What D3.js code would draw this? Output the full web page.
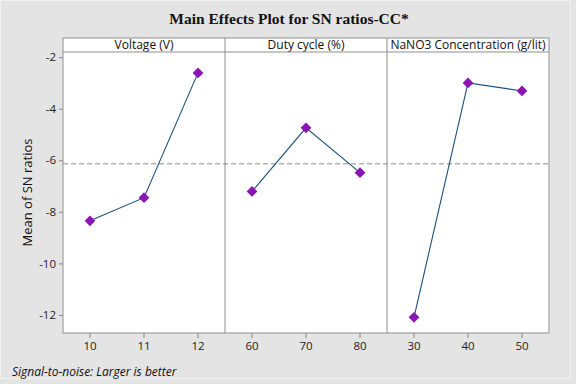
<!DOCTYPE html>
<html>
<head>
<meta charset="utf-8">
<script src="https://cdn.jsdelivr.net/npm/d3@7"></script>
<style>
  html, body { margin: 0; padding: 0; background: #e4e4e4; }
  svg { display: block; }
</style>
</head>
<body>
<div id="chart"></div>
<script>
// factors and their levels
const factors = ['Voltage (V)', 'Duty cycle (%)', 'NaNO3 Concentration (g/lit)'];
const voltageLevels = ['10', '11', '12'];
const dutyLevels = ['60', '70', '80'];
const nanoLevels = ['30', '40', '50'];

// mean SN ratios
const voltageMeans = [-8.35, -7.45, -2.61];
const dutyMeans = [-7.21, -4.74, -6.48];
const nanoMeans = [-12.09, -3.00, -3.31];

const yTicks = [-2, -4, -6, -8, -10, -12];

const W = 576, H = 384;
const box = { left: 63, right: 549, top: 38, strip: 52, bottom: 333 };
const panelW = (box.right - box.left) / factors.length;

const svg = d3.select('#chart').append('svg')
  .attr('width', W).attr('height', H);

svg.append('rect')
  .attr('x', 0.5).attr('y', 0.5).attr('width', W - 6).attr('height', H - 6)
  .attr('fill', '#e4e4e4').attr('stroke', '#f2f2f2');

svg.append('text')
  .attr('x', 289).attr('y', 24)
  .attr('text-anchor', 'middle')
  .attr('font-family', '"Liberation Serif", "Times New Roman", serif')
  .attr('font-weight', 'bold')
  .attr('font-size', '15.5px')
  .attr('fill', '#111')
  .text('Main Effects Plot for SN ratios-CC*');

const y = d3.scaleLinear()
  .domain([-12.7, -1.8])
  .range([box.bottom, box.strip]);

// plot background
svg.append('rect')
  .attr('x', box.left).attr('y', box.top)
  .attr('width', box.right - box.left).attr('height', box.bottom - box.top)
  .attr('fill', '#fff');

const panels = [
  { name: factors[0], levels: voltageLevels, means: voltageMeans },
  { name: factors[1], levels: dutyLevels, means: dutyMeans },
  { name: factors[2], levels: nanoLevels, means: nanoMeans },
];

const allMeans = voltageMeans.concat(dutyMeans, nanoMeans);
const grand = d3.mean(allMeans);

// reference line at grand mean
svg.append('line')
  .attr('x1', box.left).attr('x2', box.right)
  .attr('y1', y(grand)).attr('y2', y(grand))
  .attr('stroke', '#8c8c8c').attr('stroke-width', 1)
  .attr('stroke-dasharray', '5,3');

// y axis
const yAxis = svg.append('g')
  .attr('transform', `translate(${box.left},0)`)
  .call(d3.axisLeft(y).tickValues(yTicks).tickFormat(d => String(d)).tickSize(4).tickPadding(3));
yAxis.select('.domain').remove();
yAxis.selectAll('line').attr('stroke', '#888');
yAxis.selectAll('text')
  .attr('font-family', '"Open Sans", sans-serif')
  .attr('font-size', '11.5px').attr('fill', '#222');

svg.append('text')
  .attr('transform', `translate(32,${(box.strip + box.bottom) / 2}) rotate(-90)`)
  .attr('text-anchor', 'middle')
  .attr('font-family', '"Open Sans", sans-serif')
  .attr('font-size', '13px').attr('fill', '#111')
  .text('Mean of SN ratios');

const line = d3.line();

panels.forEach((p, i) => {
  const x0 = box.left + i * panelW;
  const x = d3.scaleBand().domain(p.levels).range([x0, x0 + panelW]);
  const cx = d => x(d) + x.bandwidth() / 2;

  const xAxis = svg.append('g')
    .attr('transform', `translate(0,${box.bottom})`)
    .call(d3.axisBottom(x).tickSize(5).tickPadding(4));
  xAxis.select('.domain').remove();
  xAxis.selectAll('line').attr('stroke', '#888');
  xAxis.selectAll('text')
    .attr('font-family', '"Open Sans", sans-serif')
    .attr('font-size', '11.5px').attr('fill', '#222');

  // strip label
  svg.append('text')
    .attr('x', x0 + panelW / 2).attr('y', box.strip - 3)
    .attr('text-anchor', 'middle')
    .attr('font-family', '"Open Sans", sans-serif')
    .attr('font-size', '12px').attr('fill', '#111')
    .text(p.name);

  const pts = p.levels.map((l, j) => [cx(l), y(p.means[j])]);
  svg.append('path')
    .attr('d', line(pts))
    .attr('fill', 'none')
    .attr('stroke', '#1d4f78').attr('stroke-width', 1.1);

  svg.append('g').selectAll('path')
    .data(pts)
    .join('path')
    .attr('transform', d => `translate(${d[0]},${d[1]}) rotate(45)`)
    .attr('d', 'M-3.8,-3.8H3.8V3.8H-3.8Z')
    .attr('fill', '#8a14b4');

  if (i > 0) {
    svg.append('line')
      .attr('x1', x0).attr('x2', x0)
      .attr('y1', box.top).attr('y2', box.bottom)
      .attr('stroke', '#8f8f8f');
  }
});

// strip separator and frame
svg.append('line')
  .attr('x1', box.left).attr('x2', box.right)
  .attr('y1', box.strip).attr('y2', box.strip)
  .attr('stroke', '#8f8f8f');
svg.append('rect')
  .attr('x', box.left).attr('y', box.top)
  .attr('width', box.right - box.left).attr('height', box.bottom - box.top)
  .attr('fill', 'none').attr('stroke', '#8f8f8f');

svg.append('text')
  .attr('x', 12).attr('y', 376)
  .attr('font-family', '"Open Sans", sans-serif')
  .attr('font-style', 'italic')
  .attr('font-size', '12px').attr('fill', '#111')
  .text('Signal-to-noise: Larger is better');
</script>
</body>
</html>
